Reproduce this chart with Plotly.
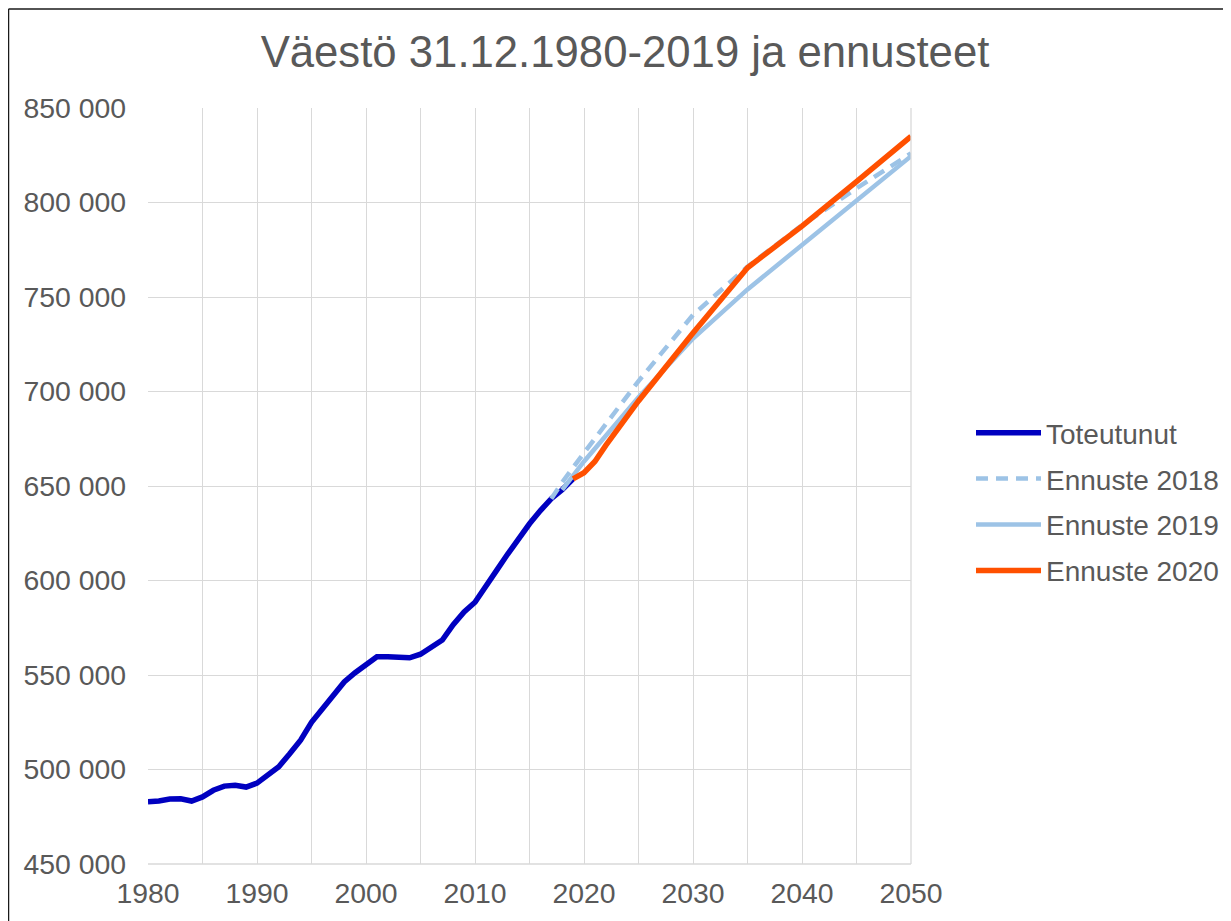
import plotly.graph_objects as go

# ---- data ----
years_actual = list(range(1980, 2020))
actual = [483000, 483300, 484400, 484500, 483300, 485500, 489000, 491200, 491600, 490700,
          492800, 497500, 501500, 508300, 515500, 525000, 531800, 539000, 546300, 551200,
          555500, 559700, 559700, 559400, 559100, 561000, 564500, 568500, 576600, 583400,
          588500, 596500, 605500, 614000, 622500, 630000, 637000, 643300, 648000, 653800]

years_f2018 = [2017, 2018, 2020, 2025, 2030, 2035, 2040, 2045, 2050]
f2018 = [643300, 652000, 667500, 705500, 740500, 766000, 788000, 807500, 826000]

years_f2019 = [2018, 2020, 2025, 2030, 2035, 2040, 2045, 2050]
f2019 = [648000, 663000, 697000, 728000, 754000, 777500, 801000, 824500]

years_f2020 = [2019, 2020, 2021, 2022, 2025, 2030, 2035, 2040, 2045, 2050]
f2020 = [653800, 657000, 663000, 671500, 695000, 731000, 765500, 787500, 811000, 835000]

x_ticks = list(range(1980, 2051, 5))
x_ticktext = [str(v) if v % 10 == 0 else "" for v in x_ticks]
y_ticks = list(range(450000, 850001, 50000))

title_text = "Väestö 31.12.1980-2019 ja ennusteet"

# ---- styles ----
FONT = "Liberation Sans, Arial, sans-serif"
GREY = "#595959"
GRID = "#d9d9d9"

fig = go.Figure()
fig.add_trace(go.Scatter(x=years_actual, y=actual, mode="lines", name="Toteutunut",
                         legendgroup="a", line=dict(color="#0000C0", width=5.5)))
fig.add_trace(go.Scatter(x=years_f2018, y=f2018, mode="lines", name="Ennuste 2018",
                         legendgroup="b", line=dict(color="#9DC3E6", width=4.5, dash="12px,8px")))
fig.add_trace(go.Scatter(x=years_f2019, y=f2019, mode="lines", name="Ennuste 2019",
                         legendgroup="c", line=dict(color="#9DC3E6", width=4.5)))
fig.add_trace(go.Scatter(x=years_f2020, y=f2020, mode="lines", name="Ennuste 2020",
                         legendgroup="d", line=dict(color="#FF5000", width=5.5)))

# page has an 8px body margin: figure coords = page coords - 8
OFF = 8
W, H = 1231 - OFF, 921 - OFF
L, R, T, B = 148 - OFF, 1231 - 911, 108 - OFF, 921 - 864
pw, ph = W - L - R, H - T - B

def px_x(p):
    return (p - OFF - L) / pw

def px_y(p):
    return (H - B - (p - OFF)) / ph

fig.update_layout(
    width=W, height=H,
    margin=dict(l=L, r=R, t=T, b=B, autoexpand=False),
    paper_bgcolor="white", plot_bgcolor="white",
    separators=". ",
    font=dict(family=FONT, color=GREY, size=28),
    title=dict(text=title_text, font=dict(family=FONT, size=43.7, color=GREY),
               x=(625 - OFF) / W, xanchor="center", xref="container",
               y=1 - (52 - OFF) / H, yanchor="middle", yref="container"),
    xaxis=dict(range=[1980, 2050], tickvals=x_ticks, ticktext=x_ticktext,
               showgrid=True, gridcolor=GRID, gridwidth=1.3, zeroline=False,
               showline=False, ticks="", ticklabelstandoff=10,
               tickfont=dict(family=FONT, size=28.4, color=GREY)),
    yaxis=dict(range=[450000, 850000], tickvals=y_ticks, tickformat=",d",
               showgrid=True, gridcolor=GRID, gridwidth=1.3, zeroline=False,
               showline=False, ticks="", ticklabelstandoff=21,
               tickfont=dict(family=FONT, size=28.4, color=GREY)),
    legend=dict(x=px_x(971), xanchor="left", y=px_y(502), yanchor="middle",
                font=dict(family=FONT, size=28, color=GREY),
                itemwidth=65, tracegroupgap=6.5, bgcolor="rgba(0,0,0,0)"),
    showlegend=True,
)

# grid line at the plot bottom / right edges (Excel draws them as grid)
fig.add_shape(type="line", xref="paper", yref="paper", x0=0, x1=1, y0=0, y1=0,
              line=dict(color=GRID, width=1.3))
fig.add_shape(type="line", xref="paper", yref="paper", x0=1, x1=1, y0=0, y1=1,
              line=dict(color=GRID, width=1.3))

# outer chart frame (only left and top visible in the crop)
fig.add_shape(type="line", xref="paper", yref="paper",
              x0=px_x(8.5), x1=px_x(8.5), y0=px_y(925), y1=px_y(9),
              line=dict(color="#1a1a1a", width=1.5), layer="above")
fig.add_shape(type="line", xref="paper", yref="paper",
              x0=px_x(8.5), x1=px_x(1235), y0=px_y(9), y1=px_y(9),
              line=dict(color="#1a1a1a", width=1.5), layer="above")

fig.write_html("out.html")
